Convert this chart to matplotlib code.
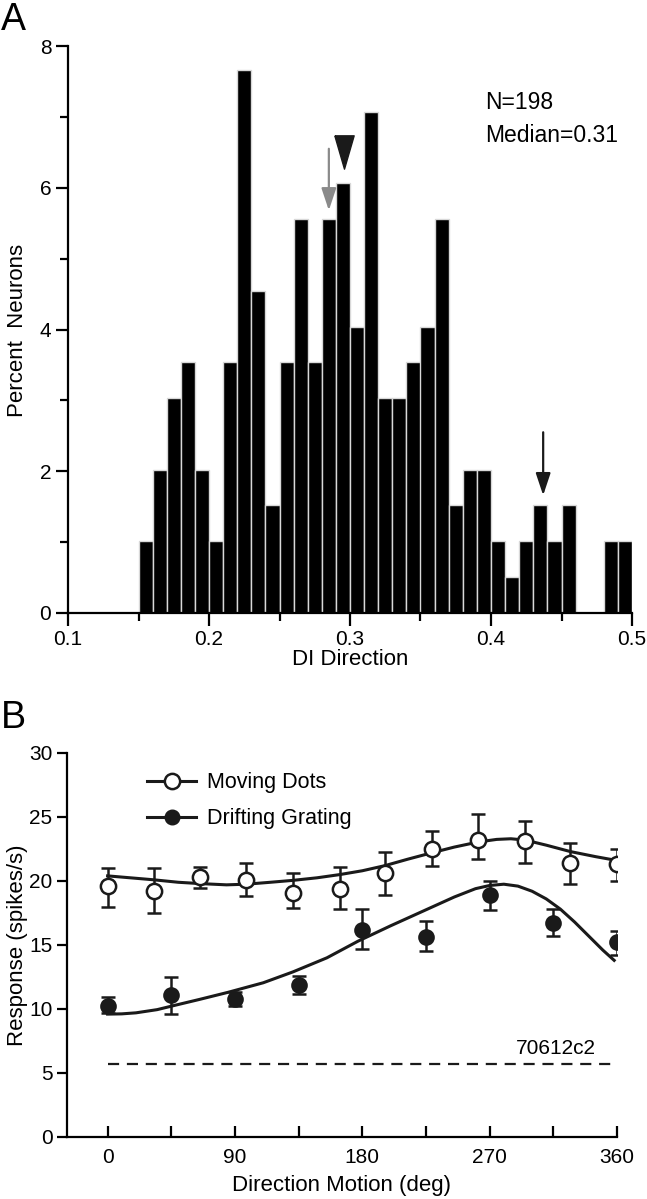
import numpy as np
import matplotlib
matplotlib.use('Agg')
from matplotlib import pyplot as plt
from matplotlib.lines import Line2D

plt.rcParams['font.family'] = ['Liberation Sans', 'DejaVu Sans']
plt.rcParams['font.size'] = 15

# panel A - histogram of DI direction (percent of 198 neurons), bins of 0.01 starting at 0.15
bin_left = np.round(np.arange(0.15, 0.50, 0.01), 2)
percent = [1.01, 2.02, 3.03, 3.54, 2.02, 1.01, 3.54, 7.66, 4.55, 1.52,
           3.54, 5.56, 3.54, 5.56, 6.06, 4.04, 7.07, 3.03, 3.03, 3.54,
           4.04, 5.56, 1.52, 2.02, 2.02, 1.01, 0.51, 1.01, 1.52, 1.01,
           1.52, 0, 0, 1.01, 1.01]
gray_arrow_x = 0.285
median_x = 0.296
black_arrow_x = 0.437

# panel B - tuning curves
dots_dir = [0, 33, 65, 98, 131, 164, 196, 229, 262, 295, 327, 360]
dots_resp = [19.6, 19.2, 20.3, 20.1, 19.1, 19.4, 20.6, 22.5, 23.2, 23.1, 21.4, 21.3]
dots_hi = [21.0, 21.0, 21.1, 21.4, 20.6, 21.1, 22.3, 23.9, 25.2, 24.7, 23.0, 22.5]
dots_lo = [18.0, 17.5, 19.45, 18.8, 17.9, 17.8, 18.9, 21.2, 21.7, 21.4, 19.8, 20.0]
dots_fit_x = [0, 16, 32, 50, 65, 84, 98, 115, 131, 148, 164, 180, 196, 212,
              229, 245, 262, 275, 285, 295, 310, 327, 345, 360]
dots_fit_y = [20.4, 20.25, 20.1, 19.9, 19.8, 19.7, 19.75, 19.9, 20.05, 20.25, 20.5, 20.8,
              21.2, 21.7, 22.2, 22.65, 23.05, 23.25, 23.3, 23.2, 22.8, 22.3, 21.9, 21.6]

grat_dir = [0, 45, 90, 135, 180, 225, 270, 315, 360]
grat_resp = [10.2, 11.1, 10.8, 11.9, 16.2, 15.6, 18.9, 16.7, 15.2]
grat_hi = [10.9, 12.5, 11.3, 12.6, 17.8, 16.9, 20.0, 17.8, 16.1]
grat_lo = [9.7, 9.6, 10.2, 11.2, 14.7, 14.5, 17.7, 15.7, 14.2]
grat_fit_x = [0, 10, 20, 35, 48, 65, 85, 110, 131, 155, 177, 200, 222, 245, 260,
              270, 280, 290, 300, 310, 320, 330, 340, 350, 358]
grat_fit_y = [9.6, 9.62, 9.7, 9.95, 10.3, 10.75, 11.3, 12.05, 12.9, 14.0, 15.3, 16.5,
              17.6, 18.75, 19.4, 19.65, 19.75, 19.6, 19.2, 18.6, 17.8, 16.8, 15.7, 14.6, 13.8]

spont_level = 5.7
cell_id = '70612c2'

fig = plt.figure(figsize=(6.47, 11.99), dpi=100)

# ---------------- A
axA = fig.add_axes([68/647, 1-613/1199, 564/647, 567/1199])
axA.bar(bin_left, percent, width=0.01, align='edge', color='black',
        edgecolor='#d8d8d8', linewidth=1.0)
axA.set_xlim(0.1, 0.5)
axA.set_ylim(0, 8)
axA.set_xticks([0.1, 0.2, 0.3, 0.4, 0.5])
axA.set_xticklabels(['0.1', '0.2', '0.3', '0.4', '0.5'])
axA.set_xticks([0.15, 0.25, 0.35, 0.45], minor=True)
axA.set_yticks([0, 2, 4, 6, 8])
axA.set_yticks([1, 3, 5, 7], minor=True)
for s in ['top', 'right']:
    axA.spines[s].set_visible(False)
for s in ['left', 'bottom']:
    axA.spines[s].set_linewidth(1.6)
axA.tick_params(which='major', length=9, width=1.6, labelsize=15, pad=3)
axA.tick_params(which='minor', length=6, width=1.6)
axA.set_xlabel('DI Direction', fontsize=16, labelpad=0)

axA.annotate('', xy=(gray_arrow_x, 5.68), xytext=(gray_arrow_x, 6.55),
             arrowprops=dict(arrowstyle='-|>,head_length=0.9,head_width=0.3',
                             mutation_scale=15, color='#8a8a8a', lw=1.6,
                             shrinkA=0, shrinkB=0))
axA.annotate('', xy=(black_arrow_x, 1.66), xytext=(black_arrow_x, 2.55),
             arrowprops=dict(arrowstyle='-|>,head_length=0.9,head_width=0.3',
                             mutation_scale=15, color='#1a1a1a', lw=1.6,
                             shrinkA=0, shrinkB=0))
tri = [(-0.58, 1), (0.58, 1), (0, -1), (-0.58, 1)]
axA.plot([median_x], [6.5], marker=tri, markersize=24, color='#1a1a1a',
         linestyle='none', clip_on=False)

axA.text(0.739, 0.889, 'N=198', transform=axA.transAxes, fontsize=16.5, va='baseline')
axA.text(0.739, 0.831, 'Median=0.31', transform=axA.transAxes, fontsize=16.5, va='baseline')

fig.text(18/647, 1-330/1199, 'Percent  Neurons', rotation=90, ha='center', va='center', fontsize=16)
fig.text(13/647, 1-20/1199, 'A', ha='center', va='center', fontsize=27)

# ---------------- B
axB = fig.add_axes([67/647, 1-1137/1199, 550/647, 384/1199])
axB.errorbar(dots_dir, dots_resp,
             yerr=[np.array(dots_resp)-np.array(dots_lo), np.array(dots_hi)-np.array(dots_resp)],
             fmt='none', ecolor='#1a1a1a', elinewidth=1.8, capsize=5, capthick=1.8, zorder=2)
axB.errorbar(grat_dir, grat_resp,
             yerr=[np.array(grat_resp)-np.array(grat_lo), np.array(grat_hi)-np.array(grat_resp)],
             fmt='none', ecolor='#1a1a1a', elinewidth=1.8, capsize=5, capthick=1.8, zorder=2)
axB.plot(dots_fit_x, dots_fit_y, color='#1a1a1a', lw=2.2, zorder=3)
axB.plot(grat_fit_x, grat_fit_y, color='#1a1a1a', lw=2.2, zorder=3)
axB.plot(dots_dir, dots_resp, 'o', ms=11, mfc='white', mec='#1a1a1a', mew=1.8, zorder=4)
axB.plot(grat_dir, grat_resp, 'o', ms=10.5, mfc='#1a1a1a', mec='#1a1a1a', mew=1.5, zorder=4)
axB.plot([0, 360], [spont_level, spont_level], color='#1a1a1a', lw=1.6,
         dashes=(5, 3.5))
axB.text(317, spont_level + 0.5, cell_id, ha='center', va='bottom', fontsize=15)

axB.set_xlim(-28.7, 360)
axB.set_ylim(0, 30)
axB.set_xticks([0, 90, 180, 270, 360])
axB.set_xticks([45, 135, 225, 315], minor=True)
axB.set_yticks([0, 5, 10, 15, 20, 25, 30])
for s in ['top', 'right']:
    axB.spines[s].set_visible(False)
for s in ['left', 'bottom']:
    axB.spines[s].set_linewidth(1.6)
axB.tick_params(axis='x', which='both', direction='in', length=8, width=1.6, labelsize=15, pad=8)
axB.tick_params(axis='y', which='major', direction='out', length=7, width=1.6, labelsize=15)
axB.set_xlabel('Direction Motion (deg)', fontsize=16, labelpad=6)

handles = [Line2D([], [], color='#1a1a1a', lw=2.2, marker='o', ms=11, mfc='white', mec='#1a1a1a', mew=1.8),
           Line2D([], [], color='#1a1a1a', lw=2.2, marker='o', ms=10.5, mfc='#1a1a1a', mec='#1a1a1a')]
axB.legend(handles, ['Moving Dots', 'Drifting Grating'], loc='upper left',
           bbox_to_anchor=(0.11, 1.0), frameon=False, handlelength=2.3,
           labelspacing=0.7, handletextpad=0.5, fontsize=15.5)

fig.text(18/647, 1-945/1199, 'Response (spikes/s)', rotation=90, ha='center', va='center', fontsize=16)
fig.text(13/647, 1-718/1199, 'B', ha='center', va='center', fontsize=27)

fig.savefig('out.png', dpi=100)
